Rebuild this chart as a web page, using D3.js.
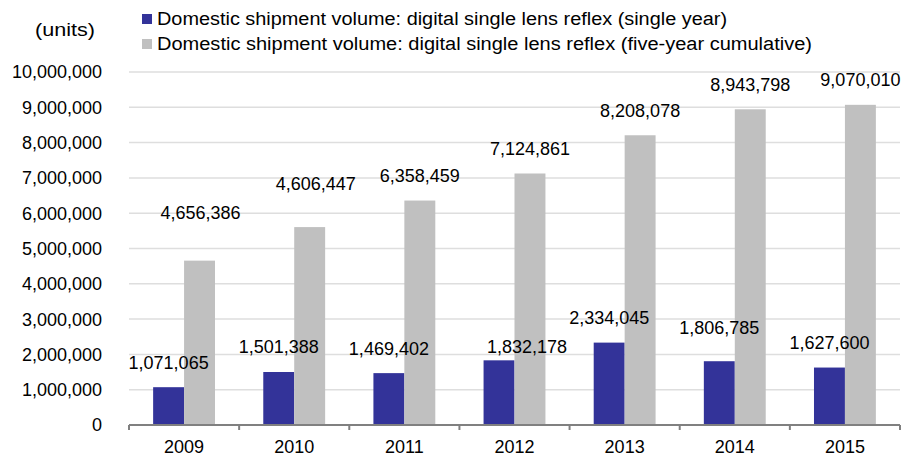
<!DOCTYPE html>
<html>
<head>
<meta charset="utf-8">
<script src="https://cdn.jsdelivr.net/npm/d3@7"></script>
<style>
  body { margin: 0; background: #fff; }
  text { font-family: "Liberation Sans", Arial, sans-serif; fill: #000; }
</style>
</head>
<body>
<svg id="chart" width="916" height="457"></svg>
<script>
const years = ['2009', '2010', '2011', '2012', '2013', '2014', '2015']
const singleYear = [1071065, 1501388, 1469402, 1832178, 2334045, 1806785, 1627600]
// bar for 2010 sits at ~5.6M while its label reads 4,606,447 in the source
const cumulative = [4656386, 5606447, 6358459, 7124861, 8208078, 8943798, 9070010]
const cumulativeLabels = ['4,656,386', '4,606,447', '6,358,459', '7,124,861', '8,208,078', '8,943,798', '9,070,010']
const yTicks = [0, 1000000, 2000000, 3000000, 4000000, 5000000, 6000000, 7000000, 8000000, 9000000, 10000000]
const seriesNames = [
  'Domestic shipment volume: digital single lens reflex (single year)',
  'Domestic shipment volume: digital single lens reflex (five-year cumulative)'
]
const colors = ['#333399', '#c0c0c0']

// hand-moved labels in the original (dx, dy in px)
const singleNudge = [[0, 0], [0, 0], [0, 0], [28, 11], [0, 0], [0, -9], [0, 0]]
const cumulNudge = [[1, -23], [6, -19], [0, 0], [0, 0], [0, 0], [0, 0], [0, 0]]
// the source font is wider than Liberation, so stretch the legend lines to its widths
const legendWidths = [570, 655]

const svg = d3.select('#chart')
const plotLeft = 129, plotRight = 900, plotTop = 72, plotBottom = 425

const x0 = d3.scaleBand().domain(years).range([plotLeft, plotRight]).padding(0)
const x1 = d3.scaleBand().domain([0, 1]).range([0, x0.bandwidth()]).paddingInner(0).paddingOuter(0.78)
const y = d3.scaleLinear().domain([0, 10000000]).range([plotBottom, plotTop])
const fmt = d3.format(',')

// gridlines
svg.append('g')
  .selectAll('line')
  .data(yTicks.filter(d => d > 0))
  .join('line')
    .attr('x1', plotLeft).attr('x2', plotRight)
    .attr('y1', d => y(d)).attr('y2', d => y(d))
    .attr('stroke', '#dedede')
    .attr('stroke-width', 1.5)

// y tick labels
svg.append('g')
  .selectAll('text')
  .data(yTicks)
  .join('text')
    .attr('x', 102)
    .attr('y', d => y(d))
    .attr('dy', '0.36em')
    .attr('text-anchor', 'end')
    .attr('font-size', 18)
    .text(d => fmt(d))

svg.append('text')
  .attr('x', 35).attr('y', 30)
  .attr('dy', '0.36em')
  .attr('font-size', 18)
  .attr('textLength', 60)
  .attr('lengthAdjust', 'spacingAndGlyphs')
  .text('(units)')

// bars
const groups = svg.append('g')
  .selectAll('g')
  .data(years)
  .join('g')
    .attr('transform', d => `translate(${x0(d)},0)`)

groups.append('rect')
  .attr('x', x1(0))
  .attr('width', x1.bandwidth())
  .attr('y', (d, i) => y(singleYear[i]))
  .attr('height', (d, i) => plotBottom - y(singleYear[i]))
  .attr('fill', colors[0])

groups.append('rect')
  .attr('x', x1(1))
  .attr('width', x1.bandwidth())
  .attr('y', (d, i) => y(cumulative[i]))
  .attr('height', (d, i) => plotBottom - y(cumulative[i]))
  .attr('fill', colors[1])

// value labels
groups.append('text')
  .attr('x', (d, i) => x1(0) + x1.bandwidth() / 2 + singleNudge[i][0])
  .attr('y', (d, i) => y(singleYear[i]) - 25 + singleNudge[i][1])
  .attr('dy', '0.36em')
  .attr('text-anchor', 'middle')
  .attr('font-size', 18)
  .text((d, i) => fmt(singleYear[i]))

groups.append('text')
  .attr('x', (d, i) => x1(1) + x1.bandwidth() / 2 + cumulNudge[i][0])
  .attr('y', (d, i) => y(cumulative[i]) - 25 + cumulNudge[i][1])
  .attr('dy', '0.36em')
  .attr('text-anchor', 'middle')
  .attr('font-size', 18)
  .text((d, i) => cumulativeLabels[i])

// x axis
const xAxis = svg.append('g')
xAxis.append('line')
  .attr('x1', plotLeft).attr('x2', plotRight)
  .attr('y1', plotBottom).attr('y2', plotBottom)
  .attr('stroke', '#808080').attr('stroke-width', 2)
xAxis.selectAll('line.tick')
  .data(years.map(d => x0(d)).concat([plotRight]))
  .join('line')
    .attr('class', 'tick')
    .attr('x1', d => d).attr('x2', d => d)
    .attr('y1', plotBottom).attr('y2', plotBottom + 5)
    .attr('stroke', '#808080').attr('stroke-width', 2)
xAxis.selectAll('text')
  .data(years)
  .join('text')
    .attr('x', d => x0(d) + x0.bandwidth() / 2)
    .attr('y', 447)
    .attr('dy', '0.36em')
    .attr('text-anchor', 'middle')
    .attr('font-size', 18)
    .text(d => d)

// legend
const legend = svg.append('g')
  .selectAll('g')
  .data(seriesNames)
  .join('g')
    .attr('transform', (d, i) => `translate(142,${19 + i * 25})`)
legend.append('rect')
  .attr('x', 0).attr('y', -5)
  .attr('width', 10).attr('height', 10)
  .attr('fill', (d, i) => colors[i])
legend.append('text')
  .attr('x', 15)
  .attr('dy', '0.36em')
  .attr('font-size', 18)
  .attr('textLength', (d, i) => legendWidths[i])
  .attr('lengthAdjust', 'spacingAndGlyphs')
  .text(d => d)
</script>
</body>
</html>
